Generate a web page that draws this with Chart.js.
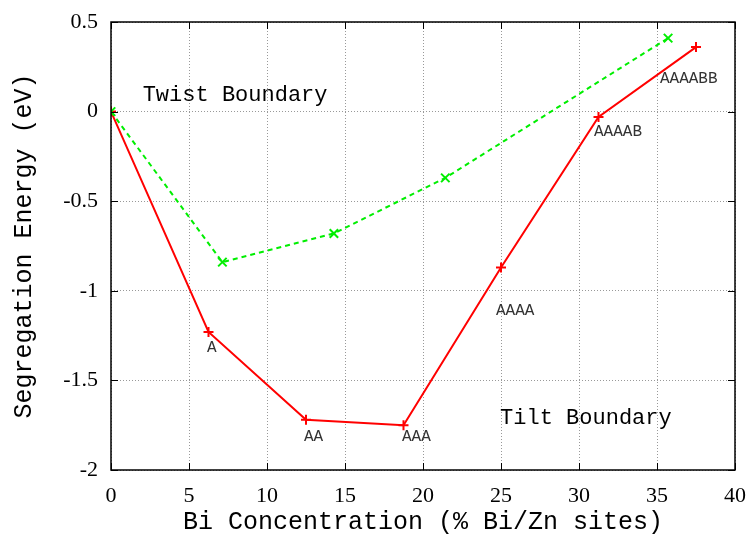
<!DOCTYPE html>
<html>
<head>
<meta charset="utf-8">
<script src="https://cdn.jsdelivr.net/npm/chart.js@4"></script>
<style>
  body { margin: 0; background: #fff; }
  #wrap { width: 746px; height: 535px; }
</style>
</head>
<body>
<div id="wrap"><canvas id="seg" width="746" height="535"></canvas></div>
<script>
// tilt boundary (red, +)
var tiltX = [0, 6.25, 12.5, 18.75, 25, 31.25, 37.5];
var tiltY = [0, -1.23, -1.72, -1.75, -0.87, -0.03, 0.36];
// twist boundary (green, x)
var twistX = [0, 7.14, 14.29, 21.43, 35.71];
var twistY = [0, -0.84, -0.68, -0.37, 0.41];

// text labels placed in data coordinates
var noteText = ["A", "AA", "AAA", "AAAA", "AAAAB", "AAAABB"];
var noteX = [6.15, 12.37, 18.65, 24.68, 30.96, 35.19];
var noteY = [-1.316, -1.816, -1.816, -1.113, -0.114, 0.182];
var bigText = ["Twist Boundary", "Tilt Boundary"];
var bigX = [2.03, 24.94];
var bigY = [0.093, -1.71];

function pts(xs, ys) {
  return xs.map(function (x, i) { return { x: x, y: ys[i] }; });
}

var mono = "'Liberation Mono', 'DejaVu Sans Mono', monospace";
var serif = "'Liberation Serif', 'DejaVu Serif', serif";

var framePlugin = {
  id: 'frame',
  afterDraw: function (chart) {
    var ctx = chart.ctx, a = chart.chartArea;
    var xs = chart.scales.x, ys = chart.scales.y;
    ctx.save();
    ctx.strokeStyle = '#000';
    ctx.lineWidth = 1;
    // inward tick marks on all four sides
    ctx.beginPath();
    xs.ticks.forEach(function (t) {
      var px = Math.round(xs.getPixelForValue(t.value)) + 0.5;
      ctx.moveTo(px, a.bottom); ctx.lineTo(px, a.bottom - 7);
      ctx.moveTo(px, a.top); ctx.lineTo(px, a.top + 7);
    });
    ys.ticks.forEach(function (t) {
      var py = Math.round(ys.getPixelForValue(t.value)) + 0.5;
      ctx.moveTo(a.left, py); ctx.lineTo(a.left + 7, py);
      ctx.moveTo(a.right, py); ctx.lineTo(a.right - 7, py);
    });
    ctx.stroke();
    ctx.lineWidth = 1.5;
    ctx.strokeRect(a.left, a.top, a.right - a.left, a.bottom - a.top);

    ctx.textAlign = 'left';
    ctx.textBaseline = 'middle';
    ctx.fillStyle = '#333';
    ctx.font = '16px ' + mono;
    noteText.forEach(function (s, i) {
      ctx.fillText(s, xs.getPixelForValue(noteX[i]), ys.getPixelForValue(noteY[i]));
    });
    ctx.fillStyle = '#000';
    ctx.font = '22px ' + mono;
    bigText.forEach(function (s, i) {
      ctx.fillText(s, xs.getPixelForValue(bigX[i]), ys.getPixelForValue(bigY[i]));
    });
    ctx.restore();
  }
};

function noPad(s) {
  s.paddingLeft = 0; s.paddingRight = 0; s.paddingTop = 0; s.paddingBottom = 0;
}

new Chart(document.getElementById('seg'), {
  type: 'line',
  data: {
    datasets: [{
      label: 'Twist Boundary',
      data: pts(twistX, twistY),
      borderColor: '#00ee00',
      backgroundColor: '#00ee00',
      borderWidth: 2,
      borderDash: [5, 4],
      pointStyle: 'crossRot',
      pointRadius: 6,
      pointBorderWidth: 2,
      fill: false,
      tension: 0
    }, {
      label: 'Tilt Boundary',
      data: pts(tiltX, tiltY),
      borderColor: '#ff0000',
      backgroundColor: '#ff0000',
      borderWidth: 2,
      pointStyle: 'cross',
      pointRadius: 5,
      pointBorderWidth: 2,
      fill: false,
      tension: 0
    }]
  },
  options: {
    responsive: false,
    animation: false,
    layout: { padding: { left: 0, top: 22, right: 11, bottom: 0 } },
    plugins: { legend: { display: false }, tooltip: { enabled: false } },
    scales: {
      x: {
        type: 'linear',
        min: 0, max: 40,
        afterFit: function (s) { s.height = 65; noPad(s); },
        ticks: { stepSize: 5, color: '#000', padding: 13, maxRotation: 0, font: { family: serif, size: 22 } },
        grid: { color: '#999', lineWidth: 1, drawTicks: false },
        border: { display: false, dash: [1, 2] },
        title: {
          display: true,
          text: 'Bi Concentration (% Bi/Zn sites)',
          color: '#000',
          font: { family: mono, size: 25, lineHeight: 1 },
          padding: { top: 0, bottom: 0 }
        }
      },
      y: {
        min: -2, max: 0.5,
        afterFit: function (s) { s.width = 111; noPad(s); },
        ticks: {
          stepSize: 0.5, color: '#000', padding: 13, font: { family: serif, size: 22 },
          callback: function (v) { return String(v); }
        },
        grid: { color: '#999', lineWidth: 1, drawTicks: false },
        border: { display: false, dash: [1, 2] },
        title: {
          display: true,
          text: 'Segregation Energy (eV)',
          color: '#000',
          font: { family: mono, size: 25, lineHeight: 1 },
          padding: { top: 12, bottom: 0 }
        }
      }
    }
  },
  plugins: [framePlugin]
});
</script>
</body>
</html>
